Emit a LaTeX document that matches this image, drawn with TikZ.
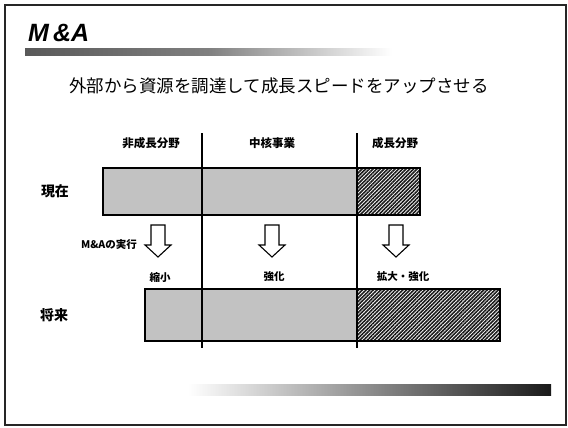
\documentclass[tikz,border=0pt]{standalone}
\usepackage{fontspec}
\newfontfamily\jp{Noto Sans CJK JP}
\newfontfamily\arialf{Liberation Sans}
\usetikzlibrary{patterns.meta}
\tikzset{
  frame/.style={line width=1.5pt, draw=black!85},
  barfill/.style={fill=black!24},
  hatch/.style={pattern={Lines[angle=45,distance=2.6pt,line width=1.6pt]}, pattern color=black!90},
  barborder/.style={draw=black, line width=1.6pt},
  divider/.style={draw=black, line width=1.1pt},
  downarrow/.style={draw=black, line width=1.1pt, fill=white, line join=miter},
  colhead/.style={font=\jp\bfseries\fontsize{11.5}{13}\selectfont, inner sep=0pt},
  rowhead/.style={font=\jp\bfseries\fontsize{14}{16}\selectfont, inner sep=0pt},
  small/.style={font=\jp\bfseries\fontsize{10.5}{12}\selectfont, inner sep=0pt},
}
\begin{document}
\begin{tikzpicture}[x=1pt,y=-1pt]
\useasboundingbox (0,0) rectangle (568,428);
% outer frame
\draw[frame] (5,5) rectangle (566,425);
% title
\node[anchor=base west, inner sep=0pt, font=\arialf\bfseries\itshape\fontsize{25}{28}\selectfont] (title) at (28,42) {M\kern4pt\&A};
\shade[left color=black!65, right color=white, middle color=black!50] (25,49) rectangle (392,56);
% subtitle
\node[inner sep=0pt, font=\jp\fontsize{17.5}{20}\selectfont] (sub) at (279,86) {外部から資源を調達して成長スピードをアップさせる};
% column headers
\node[colhead] (h1) at (151,143) {非成長分野};
\node[colhead] (h2) at (272,143) {中核事業};
\node[colhead] (h3) at (395,143) {成長分野};
% present bar
\fill[barfill] (103,168) rectangle (357,215);
\fill[hatch] (357,168) rectangle (420,215);
\draw[barborder] (103,168) rectangle (420,215);
% future bar
\fill[barfill] (145,289) rectangle (357,341);
\fill[hatch] (357,289) rectangle (500,341);
\draw[barborder] (145,289) rectangle (500,341);
% dividers
\coordinate (d1t) at (202,133); \coordinate (d1b) at (202,348);
\coordinate (d2t) at (357,133); \coordinate (d2b) at (357,348);
\draw[divider] (d1t) -- (d1b);
\draw[divider] (d2t) -- (d2b);
% row labels
\node[rowhead] (now) at (55,191) {現在};
\node[rowhead] (fut) at (54,315) {将来};
% arrows
\foreach \cx/\nm in {158/a1,272/a2,396/a3}{
  \draw[downarrow] (\cx-7,225) -- (\cx+7,225) -- (\cx+7,245) -- (\cx+13,245) -- (\cx,257) -- (\cx-13,245) -- (\cx-7,245) -- cycle;
}
\node[small, anchor=east] (mna) at (137,245) {M\&Aの実行};
% labels under arrows
\node[small] (l1) at (160,277) {縮小};
\node[small] (l2) at (274,277) {強化};
\node[small] (l3) at (403,277) {拡大・強化};
% bottom bar
\shade[left color=white, right color=black!90, middle color=black!45] (188,384) rectangle (551,395);
\end{tikzpicture}
\end{document}
